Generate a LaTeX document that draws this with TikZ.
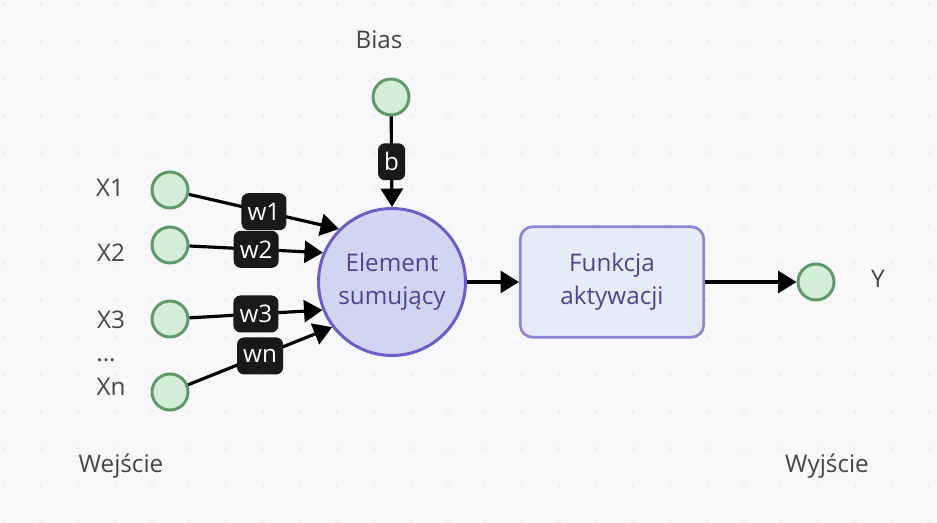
\documentclass[tikz,border=0pt]{standalone}
\usepackage{fontspec}
\setmainfont{Open Sans}
\usepackage{xcolor}
\usepackage{tikz}
\usetikzlibrary{arrows.meta,positioning}

\definecolor{bgcol}{HTML}{F8F8FB}
\definecolor{dotcol}{HTML}{ECECF1}
\definecolor{inpfill}{HTML}{D4EDD9}
\definecolor{inpdraw}{HTML}{5E9A68}
\definecolor{sumfill}{HTML}{D2D4F2}
\definecolor{sumdraw}{HTML}{6A5EC8}
\definecolor{actfill}{HTML}{E8EAF8}
\definecolor{actdraw}{HTML}{8A84D4}
\definecolor{nodetxt}{HTML}{4A4690}
\definecolor{lbltxt}{HTML}{454545}

\tikzset{
  inp/.style={circle, draw=inpdraw, fill=inpfill, line width=1.7pt, minimum size=0.72cm, inner sep=0pt},
  sumnode/.style={circle, draw=sumdraw, fill=sumfill, line width=1.7pt, minimum size=2.94cm, inner sep=0pt, text=nodetxt, align=center},
  actnode/.style={rectangle, rounded corners=7pt, draw=actdraw, fill=actfill, line width=1.5pt, minimum width=3.67cm, minimum height=2.21cm, text=nodetxt, align=center},
  wlab/.style={fill=black!90, text=white, rounded corners=4pt, inner xsep=3.5pt, inner ysep=0pt, minimum height=0.74cm},
  lbl/.style={text=lbltxt, anchor=base, inner sep=0pt},
  conn/.style={line width=1.8pt, -{Triangle[length=10.5pt,width=12.5pt]}},
}

\begin{document}
\begin{tikzpicture}[x=0.02cm, y=-0.02cm, font=\fontsize{13.8}{19}\selectfont]
\fill[bgcol] (0,0) rectangle (937,523);
\useasboundingbox (0,0) rectangle (937,523);
\foreach \i in {0,...,25}
  \foreach \j in {0,...,14}
    \fill[dotcol] (4+37*\i, 4.5+37*\j) circle (0.9pt);

\draw (170,190) node[inp] (x1){};
\draw (170,245) node[inp] (x2){};
\draw (170,319) node[inp] (x3){};
\draw (170,392) node[inp] (xn){};
\draw (391,97) node[inp] (bias){};
\draw (816,282) node[inp] (y){};

\draw (110,197) node[lbl] (lx1){X1};
\draw (111,262) node[lbl] (lx2){X2};
\draw (111,329) node[lbl] (lx3){X3};
\draw (106,362) node[lbl] (ldots){...};
\draw (111,396) node[lbl] (lxn){Xn};
\draw (379,49) node[lbl] (lbias){Bias};
\draw (878,288) node[lbl] (ly){Y};
\draw (121,473) node[lbl] (lin){Wejście};
\draw (827,473) node[lbl] (lout){Wyjście};

\draw (392,282) node[sumnode] (sum){Element\\sumujący};
\draw (612,282) node[actnode] (act){Funkcja\\aktywacji};

\draw[conn] (x1) -- node[wlab]{w1} (sum.135);
\draw[conn] (x2) -- node[wlab]{w2} (sum.157);
\draw[conn] (x3) -- node[wlab]{w3} (sum.202);
\draw[conn] (xn) -- node[wlab]{wn} (sum.217);
\draw[conn] (bias) -- node[wlab]{b} (sum.north);
\draw[conn] (sum.east) -- (act.west);
\draw[conn] (act.east) -- (y);
\end{tikzpicture}
\end{document}
